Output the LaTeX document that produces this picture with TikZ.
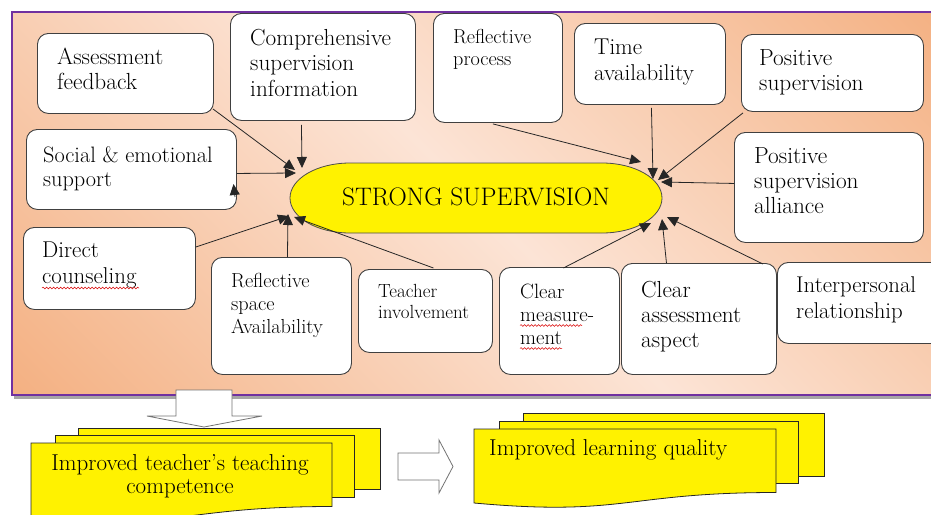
\documentclass[tikz,border=0pt]{standalone}
\usepackage{fontspec}
\usetikzlibrary{arrows.meta,calc,decorations.pathmorphing}
\definecolor{orangeC}{HTML}{F4B183}
\definecolor{peachC}{HTML}{FCE4D6}
\definecolor{purpleC}{HTML}{7030A0}
\pgfdeclarehorizontalshading{bgshade}{100bp}{color(0bp)=(orangeC); color(15bp)=(orangeC); color(50bp)=(peachC); color(85bp)=(orangeC); color(100bp)=(orangeC)}
\newcommand\bt[6]{\node[txt, font=\fontsize{#4}{#5}\selectfont] (#1) at ($(#2,#3)+(0,-0.7*#5)$) {\strut #6};}
\begin{document}
\begin{tikzpicture}[x=1pt,y=-1pt,
  box/.style={draw=black!75, fill=white, rounded corners=11pt, line width=0.9pt, anchor=north west, inner sep=0pt},
  txt/.style={anchor=north west, inner sep=0pt, align=left},
  conn/.style={draw=black!85, line width=0.8pt, -{Triangle[length=11pt,width=10pt]}},
  sheet/.style={fill=yellow, draw=black!85, line width=0.8pt},
  barrow/.style={fill=white, draw=black!55, line width=0.8pt},
  spell/.style={draw=red!85!black, line width=0.5pt, decorate, decoration={snake, amplitude=0.9pt, segment length=3.5pt}}]
\useasboundingbox (0,0) rectangle (931,514);
% background panel
\fill[black!35] (14,15) rectangle (948,399);
\shade[shading=bgshade, shading angle=45] (12,12) rectangle (946,395);
\draw[purpleC, line width=1.6pt] (12,12) rectangle (946,395);

% central shape
\draw[fill=yellow, draw=black!70, line width=0.8pt] (350,163) -- (602,163) .. controls (635.1,163) and (662,178.7) .. (662,198) .. controls (662,217.3) and (635.1,233) .. (602,233) -- (350,233) .. controls (316.9,233) and (290,217.3) .. (290,198) .. controls (290,178.7) and (316.9,163) .. (350,163) -- cycle;
\node[inner sep=0pt, font=\fontsize{25.3}{28}\selectfont] (ss) at (476,197) {STRONG SUPERVISION};

% boxes
\node[box, minimum width=176, minimum height=80] (assess) at (37,33) {};
\node[box, minimum width=185, minimum height=107] (compre) at (230,13) {};
\node[box, minimum width=129, minimum height=109] (reflproc) at (433,13) {};
\node[box, minimum width=151, minimum height=81] (time) at (574,23) {};
\node[box, minimum width=182, minimum height=77] (possup) at (741,34) {};
\node[box, minimum width=210, minimum height=80] (social) at (26,129) {};
\node[box, minimum width=189, minimum height=110] (alliance) at (734,132) {};
\node[box, minimum width=172, minimum height=82] (direct) at (23,227) {};
\node[box, minimum width=140, minimum height=117] (reflspace) at (211,257) {};
\node[box, minimum width=134, minimum height=83] (teacher) at (358,269) {};
\node[box, minimum width=120, minimum height=107] (clearmeas) at (499,267) {};
\node[box, minimum width=155, minimum height=111] (clearasp) at (621,263) {};
\node[box, minimum width=173, minimum height=81] (interp) at (777,262) {};

% box texts
\bt{assessT}{57}{64}{23.3}{25.5}{Assessment\\feedback}
\bt{compreT}{250}{45}{23.2}{25.5}{Comprehensive\\supervision\\information}
\bt{reflprocT}{453}{43}{20.2}{22}{Reflective\\process}
\bt{timeT}{594}{54}{22.9}{26}{Time\\availability}
\bt{possupT}{759}{65}{23.3}{25}{Positive\\supervision}
\bt{socialT}{43}{162}{22.3}{24}{Social \& emotional\\support}
\bt{allianceT}{754}{163}{23.3}{25}{Positive\\supervision\\alliance}
\bt{directT}{42}{257}{22.9}{26}{Direct\\counseling}
\bt{reflspaceT}{231}{287}{20.3}{23}{Reflective\\space\\Availability}
\bt{teacherT}{378}{297}{19}{21}{Teacher\\involvement}
\bt{clearmeasT}{520}{298}{20.7}{23}{Clear\\measure-\\ment}
\bt{clearaspT}{641}{297}{23.2}{25}{Clear\\assessment\\aspect}
\bt{interpT}{796}{292}{22.8}{26}{Interpersonal\\relationship}

% spell-check marks
\draw[spell] (42,288) -- (139,288);
\draw[spell] (520,325.5) -- (582,325.5);
\draw[spell] (520,348.5) -- (562,348.5);

% arrow end points
\coordinate (tL1) at (295,170);
\coordinate (tL2) at (302,168);
\coordinate (tL3) at (296,173);
\coordinate (bL1) at (289,216);
\coordinate (bL2) at (288,214);
\coordinate (bL3) at (294,217);
\coordinate (tR1) at (641,162);
\coordinate (tR2) at (653,179);
\coordinate (tR3) at (658,180);
\coordinate (tR4) at (661,182);
\coordinate (bR1) at (651,223);
\coordinate (bR2) at (662,219);
\coordinate (bR3) at (667,217);
\coordinate (s1) at (235,197);
\coordinate (s2) at (233.5,184);

% connectors
\draw[conn] ($(assess.south east)+(-1,-5)$) -- (tL1);
\draw[conn] ($(compre.south)+(-21.5,4)$) -- (tL2);
\draw[conn] ($(social.east)+(0,4)$) -- (tL3);
\draw[conn] (s1) -- (s2);
\draw[conn] ($(direct.north east)+(0,20)$) -- (bL1);
\draw[conn] ($(reflspace.north)+(6,0)$) -- (bL2);
\draw[conn] ($(teacher.north)+(8,-1)$) -- (bL3);
\draw[conn] ($(reflproc.south)+(-5,1)$) -- (tR1);
\draw[conn] ($(time.south)+(1.5,3)$) -- (tR2);
\draw[conn] ($(possup.south west)+(2,1)$) -- (tR3);
\draw[conn] ($(alliance.west)+(0,-4)$) -- (tR4);
\draw[conn] ($(clearmeas.north)+(4,1)$) -- (bR1);
\draw[conn] ($(clearasp.north)+(-32.5,0)$) -- (bR2);
\draw[conn] ($(clearasp.north east)+(-14,1)$) -- (bR3);

% block arrows
\draw[barrow] (176,390) -- (232,390) -- (232,416) -- (262,416) -- (204,427) -- (147,416) -- (176,416) -- cycle;
\draw[barrow] (398,453) -- (439,453) -- (439,440) -- (453,466.5) -- (439,493) -- (439,480) -- (398,480) -- cycle;

% left stack
\draw[sheet] (78,428) rectangle (380,489);
\draw[sheet] (55,435) rectangle (354,497);
\draw[sheet] (31,443) -- (332,443) -- (332,506.5) .. controls (181,506.5) and (181,530.7) .. (31,517) -- cycle;
\node[inner sep=0pt, anchor=north, align=center, font=\fontsize{23}{23}\selectfont] (leftT) at (180,453.9) {\strut Improved teacher's teaching\\competence};

% right stack
\draw[sheet] (523,413) rectangle (824,476);
\draw[sheet] (499,421) rectangle (798,483);
\draw[sheet] (474,429) -- (776,429) -- (776,492.5) .. controls (625,492.5) and (625,516.7) .. (474,503) -- cycle;
\node[txt, font=\fontsize{23}{23}\selectfont] (rightT) at (489,438.9) {\strut Improved learning quality};
\end{tikzpicture}
\end{document}
